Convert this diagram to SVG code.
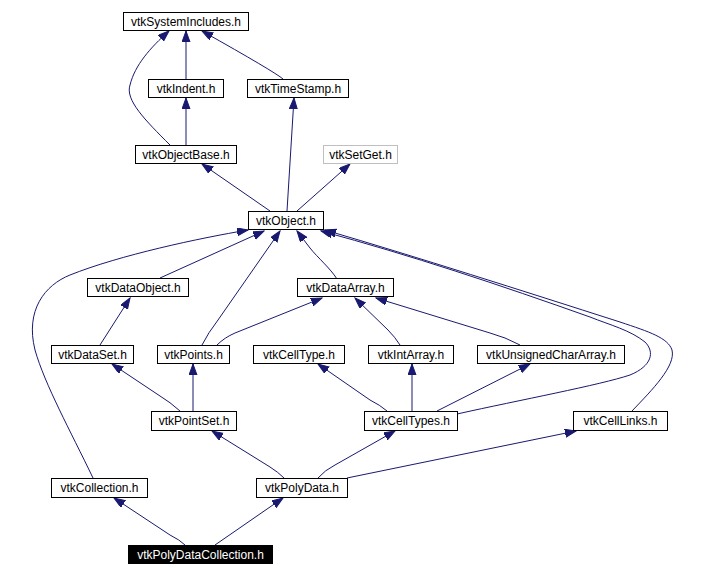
<svg xmlns="http://www.w3.org/2000/svg" width="728" height="576" viewBox="0 0 728 576">
<style>
.n rect{fill:#fff;stroke:#000;stroke-width:1}
.n text{font-family:"Liberation Sans",Arial,sans-serif;font-size:12px;text-anchor:middle;fill:#000}
#setget rect{stroke:#bfbfbf}
#pdc rect{fill:#000}
#pdc text{fill:#fff}
.e path{fill:none;stroke:#191970;stroke-width:1;marker-end:url(#ah)}
</style>
<defs>
<marker id="ah" markerUnits="userSpaceOnUse" markerWidth="12" markerHeight="9" refX="11" refY="4" orient="auto">
<path d="M0,0 L11,4 L0,8 z" fill="#191970" stroke="#191970" stroke-width="1"/>
</marker>
</defs>
<rect width="728" height="576" fill="#fff"/>
<g class="e" id="edges">
<path d="M186,79 L186,31"/>
<path d="M283,79 Q275,72 202,31"/>
<path d="M170,145 C145,120 125,100 130,85 C135,65 150,48 169,31"/>
<path d="M186,145 L186,98"/>
<path d="M270,211 L202,164"/>
<path d="M287,211 L294,98"/>
<path d="M297,211 L350,164"/>
<path d="M160,278 L264,231"/>
<path d="M93,478 C70,430 45,385 35,350 C25,310 45,285 70,275 C120,255 200,238 248,230"/>
<path d="M202,345 Q208,333 218,320 L280,231"/>
<path d="M337,279 C330,268 318,258 310,248 L297,231"/>
<path d="M457,414 C520,400 600,385 630,375 C652,366 655,352 645,342 C630,330 610,325 590,317 C500,285 410,255 321,231"/>
<path d="M632,411 C652,390 676,366 672,350 C668,338 650,332 620,322 C520,290 420,258 325,230"/>
<path d="M100,345 L130,298"/>
<path d="M217,345 C222,340 228,336 235,333 L322,298"/>
<path d="M400,345 Q395,337 388,330 L355,298"/>
<path d="M520,345 Q505,337 490,333 L376,298"/>
<path d="M180,411 Q170,402 160,396 L112,364"/>
<path d="M193,411 L193,364"/>
<path d="M387,411 Q380,405 370,400 L318,364"/>
<path d="M412,411 L412,364"/>
<path d="M437,411 L530,364"/>
<path d="M284,478 Q278,472 270,467 L212,431"/>
<path d="M318,478 Q325,470 335,465 L395,431"/>
<path d="M347,478 L576,431"/>
<path d="M185,545 Q180,540 170,535 L114,498"/>
<path d="M215,545 L283,498"/>
</g>
<g class="n" id="sysinc"><rect x="123.5" y="12.5" width="125" height="18"/><text x="186" y="26">vtkSystemIncludes.h</text></g>
<g class="n" id="indent"><rect x="148.5" y="79.5" width="75" height="18"/><text x="186" y="93">vtkIndent.h</text></g>
<g class="n" id="timestamp"><rect x="247.5" y="79.5" width="101" height="18"/><text x="298" y="93">vtkTimeStamp.h</text></g>
<g class="n" id="objectbase"><rect x="135.5" y="145.5" width="101" height="18"/><text x="186" y="159">vtkObjectBase.h</text></g>
<g class="n" id="setget"><rect x="323.5" y="145.5" width="74" height="18"/><text x="360.5" y="159">vtkSetGet.h</text></g>
<g class="n" id="object"><rect x="248.5" y="211.5" width="75" height="18"/><text x="286" y="225">vtkObject.h</text></g>
<g class="n" id="dataobject"><rect x="87.5" y="278.5" width="101" height="18"/><text x="138" y="292">vtkDataObject.h</text></g>
<g class="n" id="dataarray"><rect x="297.5" y="278.5" width="96" height="18"/><text x="345.5" y="292">vtkDataArray.h</text></g>
<g class="n" id="dataset"><rect x="51.5" y="345.5" width="82" height="18"/><text x="92.5" y="359">vtkDataSet.h</text></g>
<g class="n" id="points"><rect x="157.5" y="345.5" width="72" height="18"/><text x="193.5" y="359">vtkPoints.h</text></g>
<g class="n" id="celltype"><rect x="253.5" y="345.5" width="91" height="18"/><text x="299" y="359">vtkCellType.h</text></g>
<g class="n" id="intarray"><rect x="368.5" y="345.5" width="85" height="18"/><text x="411" y="359">vtkIntArray.h</text></g>
<g class="n" id="uca"><rect x="477.5" y="345.5" width="147" height="18"/><text x="551" y="359">vtkUnsignedCharArray.h</text></g>
<g class="n" id="pointset"><rect x="151.5" y="411.5" width="85" height="19"/><text x="194" y="425">vtkPointSet.h</text></g>
<g class="n" id="celltypes"><rect x="364.5" y="411.5" width="93" height="19"/><text x="411" y="425">vtkCellTypes.h</text></g>
<g class="n" id="celllinks"><rect x="573.5" y="411.5" width="94" height="19"/><text x="620.5" y="425">vtkCellLinks.h</text></g>
<g class="n" id="collection"><rect x="51.5" y="478.5" width="96" height="19"/><text x="99.5" y="492">vtkCollection.h</text></g>
<g class="n" id="polydata"><rect x="256.5" y="478.5" width="91" height="19"/><text x="302" y="492">vtkPolyData.h</text></g>
<g class="n" id="pdc"><rect x="128.5" y="545.5" width="144" height="18"/><text x="200.5" y="559">vtkPolyDataCollection.h</text></g>
</svg>
